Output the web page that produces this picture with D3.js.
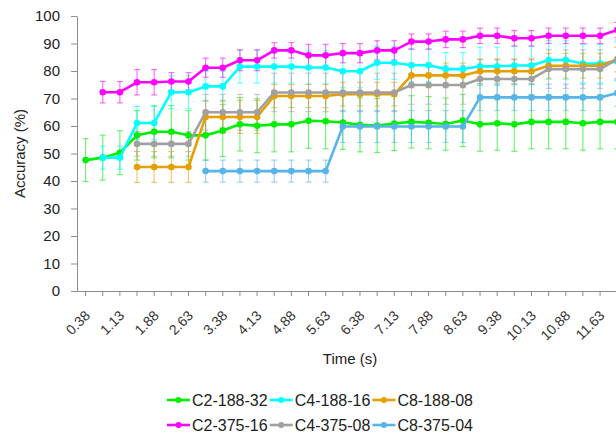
<!DOCTYPE html>
<html>
<head>
<meta charset="utf-8">
<script src="https://cdn.jsdelivr.net/npm/d3@7"></script>
<style>
    body { margin: 0; background: #fff; }
    svg { display: block; font-family: "Liberation Sans", Arial, sans-serif; }
</style>
</head>
<body>
<svg id="drawing_region"></svg>
<script>
// time stamps (s), one per category
const times = ["0.38","0.75","1.13","1.50","1.88","2.25","2.63","3.00","3.38","3.75",
               "4.13","4.50","4.88","5.25","5.63","6.00","6.38","6.75","7.13","7.50",
               "7.88","8.25","8.63","9.00","9.38","9.75","10.13","10.50","10.88","11.25",
               "11.63","12.00"];

const yticks = [0,10,20,30,40,50,60,70,80,90,100];

const names  = ["C2-188-32","C4-188-16","C8-188-08","C2-375-16","C4-375-08","C8-375-04"];
const colors = ["#00ee00","#00ffff","#e69f00","#ff00ff","#a0a0a0","#56b4e9"];

const c2_188_32 = [47.6,48.5,50.3,56.6,57.9,57.9,56.6,56.6,58.4,60.6,60.1,60.6,60.6,61.9,61.7,61.3,
                   60.4,60.2,60.9,61.5,61.2,60.7,62.0,60.6,61.0,60.6,61.5,61.5,61.5,61.0,61.5,61.5];
const c4_188_16 = [null,48.5,48.5,61.1,61.1,72.3,72.3,74.4,74.4,81.6,81.6,81.6,81.6,81.3,81.3,79.9,
                   79.9,83.0,83.0,82.1,82.1,80.7,80.7,81.7,81.7,82.0,82.0,84.0,84.0,82.7,82.7,83.5];
const c8_188_08 = [null,null,null,45.1,45.1,45.1,45.1,63.3,63.3,63.3,63.3,70.9,70.9,70.9,70.9,71.6,
                   71.6,71.6,71.6,78.4,78.4,78.4,78.4,79.9,79.9,79.9,79.9,81.9,81.9,81.9,81.9,84.2];
const c2_375_16 = [null,72.3,72.3,75.9,75.9,76.2,76.2,81.2,81.2,83.9,83.9,87.5,87.5,85.7,85.7,86.5,
                   86.5,87.5,87.5,90.7,90.7,91.5,91.5,92.8,92.8,91.9,91.9,92.8,92.8,92.8,92.8,94.9];
const c4_375_08 = [null,null,null,53.5,53.5,53.5,53.5,65.0,65.0,65.0,65.0,72.2,72.2,72.2,72.2,72.2,
                   72.2,72.2,72.2,74.9,74.9,74.9,74.9,77.1,77.1,77.1,77.1,80.7,80.7,80.7,80.7,84.3];
const c8_375_04 = [null,null,null,null,null,null,null,43.6,43.6,43.6,43.6,43.6,43.6,43.6,43.6,59.8,
                   59.8,59.8,59.8,59.8,59.8,59.8,59.8,70.4,70.4,70.4,70.4,70.4,70.4,70.4,70.4,72.0];

// error bar half widths (%)
const e2_188_32 = [7.8,8.2,8.0,9.0,9.5,9.5,9.0,9.0,9.5,9.7,9.8,10,10,10,10,9.8,
                   9.8,9.8,9.8,9.5,9.5,9.5,9.5,9.8,9.8,9.8,9.8,9.8,9.8,9.8,9.8,9.8];
const e4_188_16 = [null,4.2,4.2,6,6,6,6,5.5,5.5,6,6,6,6,6,6,6,
                   6,6,6,6,6,6,6,7,7,7,7,7,7,7,7,7];
const e8_188_08 = [null,null,null,5.6,5.6,5.6,5.6,6,6,6,6,4.2,4.2,4.2,4.2,4.3,
                   4.3,4.3,4.3,4.5,4.5,4.5,4.5,4.5,4.5,4.5,4.5,4.5,4.5,4.5,4.5,4.5];
const e2_375_16 = [null,3.9,3.9,4.6,4.6,3.2,3.2,3.5,3.5,3.8,3.8,2.8,2.8,4,4,3.5,
                   3.5,3.5,3.5,2.8,2.8,3,3,2.8,2.8,2.8,2.8,2.8,2.8,2.8,2.8,2.8];
const e4_375_08 = [null,null,null,4.5,4.5,4.5,4.5,6.5,6.5,6.5,6.5,7,7,7,7,7,
                   7,7,7,7,7,7,7,7,7,7,7,7,7,7,7,7];
const e8_375_04 = [null,null,null,null,null,null,null,4,4,4,4,4,4,4,4,5.8,
                   5.8,5.8,5.8,5.8,5.8,5.8,5.8,4.8,4.8,4.8,4.8,4.8,4.8,4.8,4.8,4.8];

const values = [c2_188_32, c4_188_16, c8_188_08, c2_375_16, c4_375_08, c8_375_04];
const errors = [e2_188_32, e4_188_16, e8_188_08, e2_375_16, e4_375_08, e8_375_04];

const series = names.map( (name, k) => ({
    name: name,
    color: colors[k],
    points: times.map( (t, i) => ({ t: t, v: values[k][i], e: errors[k][i] }) )
                 .filter( d => d.v != null )
}));

class LineChart {

    constructor( config, data ) {
        this.config = config;
        this.data = data;
        this.init();
    }

    init() {
        let self = this;

        self.svg = d3.select( self.config.parent )
            .attr('width', self.config.width)
            .attr('height', self.config.height);

        self.svg.append('rect')
            .attr('width', self.config.width)
            .attr('height', self.config.height)
            .attr('fill', '#fff');

        self.xscale = d3.scaleBand()
            .domain( times )
            .range( [self.config.left, self.config.left + self.config.step * times.length] );

        self.yscale = d3.scaleLinear()
            .domain( [0, 100] )
            .range( [self.config.bottom, self.config.top] );

        self.xaxis = d3.axisBottom( self.xscale )
            .tickSize(5)
            .tickSizeOuter(0)
            .tickFormat( (d, i) => i % 2 == 0 ? d : '' );

        self.yaxis = d3.axisLeft( self.yscale )
            .tickValues( yticks )
            .tickSize(6)
            .tickSizeOuter(0)
            .tickPadding(11);

        self.xaxis_group = self.svg.append('g')
            .attr('transform', `translate(0, ${self.config.bottom})`);

        self.yaxis_group = self.svg.append('g')
            .attr('transform', `translate(${self.config.left}, 0)`);

        self.chart = self.svg.append('g');
    }

    cx( t ) {
        return this.xscale( t ) + this.xscale.bandwidth() / 2;
    }

    render() {
        let self = this;

        self.xaxis_group.call( self.xaxis );
        self.xaxis_group.selectAll('path, line').attr('stroke', '#8c8c8c');
        self.xaxis_group.selectAll('text')
            .attr('font-size', '14px')
            .attr('fill', '#333')
            .attr('text-anchor', 'end')
            .attr('x', 0)
            .attr('y', 0)
            .attr('dy', '0.35em')
            .attr('transform', 'translate(2, 22) rotate(-45)');

        self.yaxis_group.call( self.yaxis );
        self.yaxis_group.selectAll('path, line').attr('stroke', '#8c8c8c');
        self.yaxis_group.selectAll('text')
            .attr('font-size', '15px')
            .attr('fill', '#222');

        // error bars first, lines and markers on top
        self.data.forEach( s => {
            const g = self.chart.append('g')
                .attr('stroke', s.color)
                .attr('stroke-width', 1.1)
                .attr('stroke-opacity', 0.6);
            g.selectAll('line.bar')
                .data( s.points )
                .enter()
                .append('line')
                .attr('x1', d => self.cx( d.t ) )
                .attr('x2', d => self.cx( d.t ) )
                .attr('y1', d => self.yscale( d.v - d.e ) )
                .attr('y2', d => self.yscale( d.v + d.e ) );
            [-1, 1].forEach( sgn => {
                g.selectAll(null)
                    .data( s.points )
                    .enter()
                    .append('line')
                    .attr('x1', d => self.cx( d.t ) - 3 )
                    .attr('x2', d => self.cx( d.t ) + 3 )
                    .attr('y1', d => self.yscale( d.v + sgn * d.e ) )
                    .attr('y2', d => self.yscale( d.v + sgn * d.e ) );
            });
        });

        const line = d3.line()
            .x( d => self.cx( d.t ) )
            .y( d => self.yscale( d.v ) );

        self.data.forEach( s => {
            self.chart.append('path')
                .datum( s.points )
                .attr('d', line)
                .attr('fill', 'none')
                .attr('stroke', s.color)
                .attr('stroke-width', 2.6)
                .attr('stroke-linejoin', 'round');
            self.chart.selectAll(null)
                .data( s.points )
                .enter()
                .append('circle')
                .attr('cx', d => self.cx( d.t ) )
                .attr('cy', d => self.yscale( d.v ) )
                .attr('r', 3.3)
                .attr('fill', s.color);
        });

        // axis titles
        self.svg.append('text')
            .attr('x', 350)
            .attr('y', 364)
            .attr('text-anchor', 'middle')
            .attr('font-size', '15px')
            .attr('fill', '#222')
            .text('Time (s)');

        self.svg.append('text')
            .attr('transform', `translate(25, ${(self.config.top + self.config.bottom) / 2}) rotate(-90)`)
            .attr('text-anchor', 'middle')
            .attr('font-size', '15px')
            .attr('fill', '#222')
            .text('Accuracy (%)');

        // legend, 3 per row
        const legend = self.svg.append('g');
        self.data.forEach( (s, k) => {
            const lx = 167 + (k % 3) * 102.7;
            const ly = 400 + Math.floor(k / 3) * 25;
            const item = legend.append('g').attr('transform', `translate(${lx}, ${ly})`);
            item.append('line')
                .attr('x1', 0).attr('x2', 23)
                .attr('stroke', s.color)
                .attr('stroke-width', 2.6);
            item.append('circle')
                .attr('cx', 11.5)
                .attr('r', 3)
                .attr('fill', s.color);
            item.append('text')
                .attr('x', 25)
                .attr('y', 6)
                .attr('font-size', '16px')
                .attr('fill', '#222')
                .text( s.name );
        });
    }
}

const config = {
    parent: '#drawing_region',
    width: 616,
    height: 435,
    left: 77,
    top: 16,
    bottom: 291,
    step: 17.15
};

const line_chart = new LineChart( config, series );
line_chart.render();
</script>
</body>
</html>
